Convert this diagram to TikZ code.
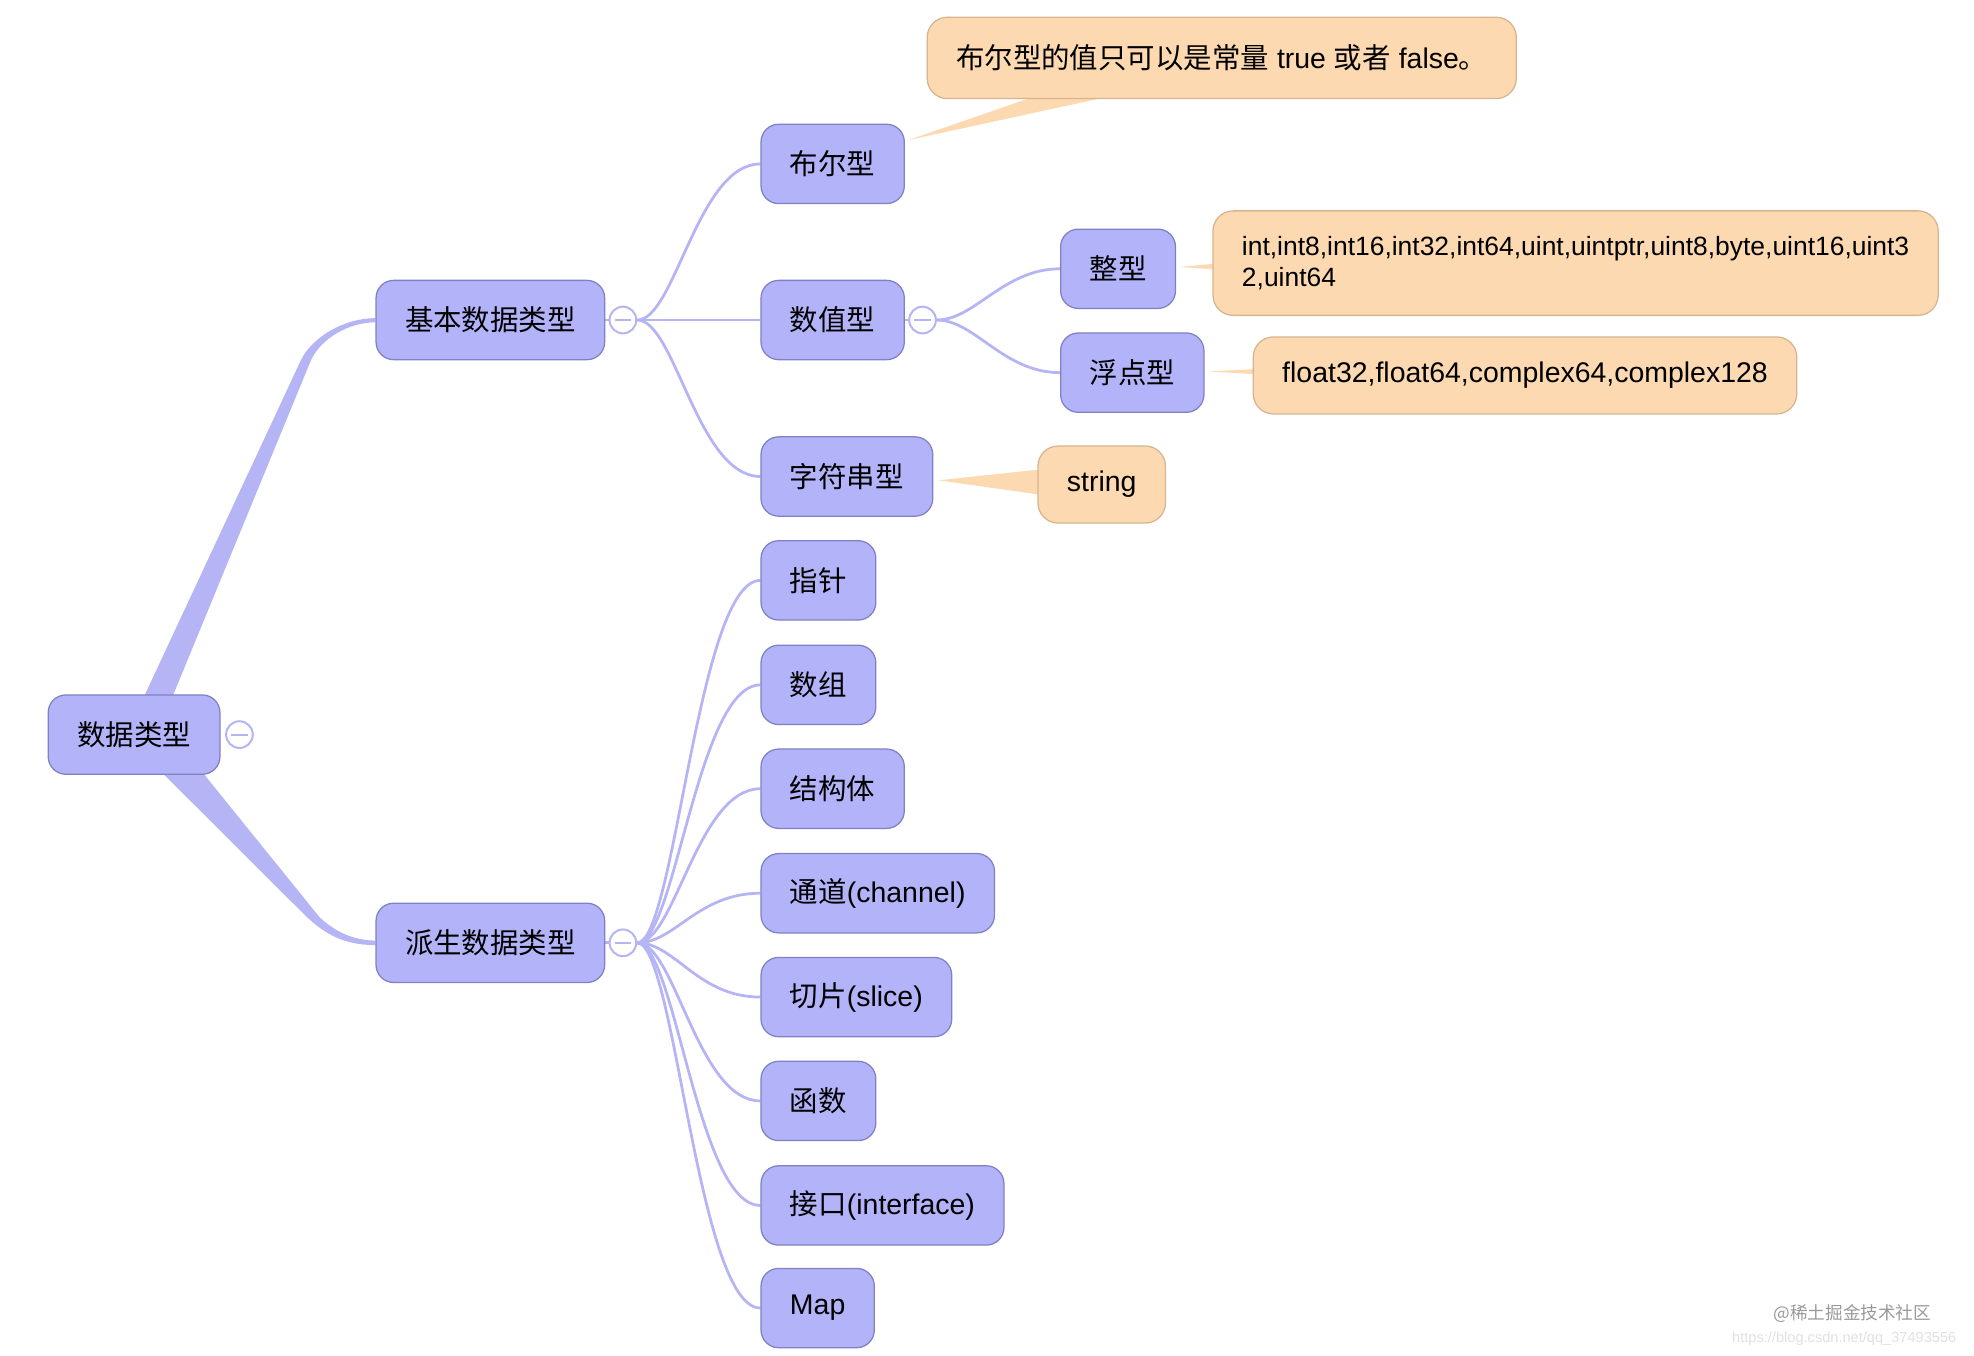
\documentclass[tikz,border=0pt]{standalone}
\usepackage{fontspec}
\setmainfont{Liberation Sans}
\newfontfamily\cjk{Noto Sans CJK SC}
\usetikzlibrary{calc,backgrounds}

\definecolor{topicfill}{RGB}{179,179,250}
\definecolor{topicdraw}{RGB}{128,128,196}
\definecolor{branch}{RGB}{181,181,246}
\definecolor{notefill}{RGB}{252,217,177}
\definecolor{notedraw}{RGB}{214,181,142}

\tikzset{
  topic/.style={draw=topicdraw,fill=topicfill,line width=0.5pt,rounded corners=7pt,
    minimum height=31.5pt,inner xsep=11.5pt,inner ysep=0pt,text=black,
    font=\cjk\fontsize{11.3}{13.5}\selectfont},
  leaf/.style={topic,anchor=west},
  note/.style={draw=notedraw,fill=notefill,line width=0.5pt,rounded corners=8pt,
    minimum height=30.6pt,inner xsep=11.5pt,inner ysep=0pt,text=black,anchor=west,
    font=\fontsize{11.3}{13.5}\selectfont},
  fold/.style={circle,draw=branch,fill=white,line width=0.8pt,minimum size=10.6pt,inner sep=0pt,
    path picture={\draw[branch,line width=0.8pt]
      ([xshift=-3.2pt]path picture bounding box.center) -- ([xshift=3.2pt]path picture bounding box.center);}},
  twig/.style={draw=branch,line width=1.1pt},
  band/.style={fill=branch},
  wedge/.style={fill=notefill}
}

\begin{document}
\begin{tikzpicture}[x=0.5pt,y=-0.5pt]
  \useasboundingbox (0,0) rectangle (1568,1077);
  % root and its two branches
  \node[topic] (root) at (106.5,583.5) {数据类型};
  \node[fold] (rootfold) at ($(root.east)+(15,0)$) {};
  \node[topic] (basic) at (389.5,254.2) {基本数据类型};
  \node[fold] (basicfold) at ($(basic.east)+(14,0)$) {};
  \node[topic] (derived) at (389.5,748.9) {派生数据类型};
  \node[fold] (derivedfold) at ($(derived.east)+(14,0)$) {};
  % basic types
  \node[leaf] (bool) at (604,130.2) {布尔型};
  \node[leaf] (num) at (604,254.2) {数值型};
  \node[fold] (numfold) at ($(num.east)+(14,0)$) {};
  \node[leaf] (str) at (604,378.5) {字符串型};
  \node[leaf] (int) at (842,213.5) {整型};
  \node[leaf] (float) at (842,296) {浮点型};
  % notes
  \node[note,minimum height=32.3pt] (boolnote) at (736,46) {{\cjk 布尔型的值只可以是常量} true {\cjk 或者} false{\cjk 。}};
  \node[note,minimum height=41.5pt,align=left,font=\fontsize{10.5}{12.5}\selectfont] (intnote) at (963,209)
    {int,int8,int16,int32,int64,uint,uintptr,uint8,byte,uint16,uint3\\2,uint64};
  \node[note] (floatnote) at (995,298.2) {float32,float64,complex64,complex128};
  \node[note] (strnote) at (824,384.9) {string};
  % derived types
  \node[leaf] (ptr) at (604,461) {指针};
  \node[leaf] (arr) at (604,544) {数组};
  \node[leaf] (struct) at (604,626.5) {结构体};
  \node[leaf] (chan) at (604,709.5) {通道{\rmfamily (channel)}};
  \node[leaf] (slice) at (604,792) {切片{\rmfamily (slice)}};
  \node[leaf] (func) at (604,874.5) {函数};
  \node[leaf] (iface) at (604,957.5) {接口{\rmfamily (interface)}};
  \node[leaf] (map) at (604,1039) {{\rmfamily Map}};
  % site marks
  \node[anchor=east,text=black!40,font=\cjk\fontsize{7}{8}\selectfont] (site) at (1541,1043) {@稀土掘金技术社区};
  \node[anchor=east,text=black!12,font=\fontsize{5.8}{7}\selectfont] (url) at (1561,1063) {https://blog.csdn.net/qq\_37493556};
  \begin{scope}[on background layer]
    % root -> basic
    \fill[band] ($(root.north)+(5,8)$) -- ($(basic.west)+(-59,31.5)$)
      .. controls ($(basic.west)+(-50,13.5)$) and ($(basic.west)+(-25,-1.5)$) .. ($(basic.west)+(0,-1.5)$)
      -- ($(basic.west)+(0,1.8)$)
      .. controls ($(basic.west)+(-22,2)$) and ($(basic.west)+(-43,15)$) .. ($(basic.west)+(-51,31.5)$)
      -- ($(root.north)+(28,8)$) -- cycle;
    % root -> derived
    \fill[band] ($(root.south)+(16,-8)$) -- ($(derived.west)+(-54.5,-20.5)$)
      .. controls ($(derived.west)+(-40,-7)$) and ($(derived.west)+(-25,1.8)$) .. ($(derived.west)+(0,1.8)$)
      -- ($(derived.west)+(0,-1.8)$)
      .. controls ($(derived.west)+(-18,-1.8)$) and ($(derived.west)+(-33,-9.5)$) .. ($(derived.west)+(-44.5,-20.5)$)
      -- ($(root.south)+(49.5,-8)$) -- cycle;
    % basic -> children
    \draw[twig] (basic.east) -- (basicfold.west);
    \draw[twig] (basicfold.east) .. controls +(30,0) and +(-50,0) .. (bool.west);
    \draw[twig] (basicfold.east) -- (num.west);
    \draw[twig] (basicfold.east) .. controls +(30,0) and +(-50,0) .. (str.west);
    \draw[twig] (num.east) -- (numfold.west);
    \draw[twig] (numfold.east) .. controls +(30,0) and +(-45,0) .. (int.west);
    \draw[twig] (numfold.east) .. controls +(30,0) and +(-45,0) .. (float.west);
    % notes
    \fill[wedge] ($(bool.north east)+(3,13)$) -- ($(boolnote.south west)+(88,-3)$) -- ($(boolnote.south west)+(149,-3)$) -- cycle;
    \fill[wedge] ($(int.east)+(3,-1.5)$) -- ($(intnote.west)+(2,0.5)$) -- ($(intnote.west)+(2,5)$) -- cycle;
    \fill[wedge] ($(float.east)+(3,-1)$) -- ($(floatnote.west)+(2,-5)$) -- ($(floatnote.west)+(2,-1)$) -- cycle;
    \fill[wedge] ($(str.east)+(4,3)$) -- ($(strnote.west)+(2,-12)$) -- ($(strnote.west)+(2,8)$) -- cycle;
    % derived -> children
    \draw[twig] (derived.east) -- (derivedfold.west);
    \draw[twig] (derivedfold.east) .. controls +(30,0) and +(-50,0) .. (ptr.west);
    \draw[twig] (derivedfold.east) .. controls +(30,0) and +(-50,0) .. (arr.west);
    \draw[twig] (derivedfold.east) .. controls +(30,0) and +(-50,0) .. (struct.west);
    \draw[twig] (derivedfold.east) .. controls +(30,0) and +(-50,0) .. (chan.west);
    \draw[twig] (derivedfold.east) .. controls +(30,0) and +(-50,0) .. (slice.west);
    \draw[twig] (derivedfold.east) .. controls +(30,0) and +(-50,0) .. (func.west);
    \draw[twig] (derivedfold.east) .. controls +(30,0) and +(-50,0) .. (iface.west);
    \draw[twig] (derivedfold.east) .. controls +(30,0) and +(-50,0) .. (map.west);
  \end{scope}
\end{tikzpicture}
\end{document}
